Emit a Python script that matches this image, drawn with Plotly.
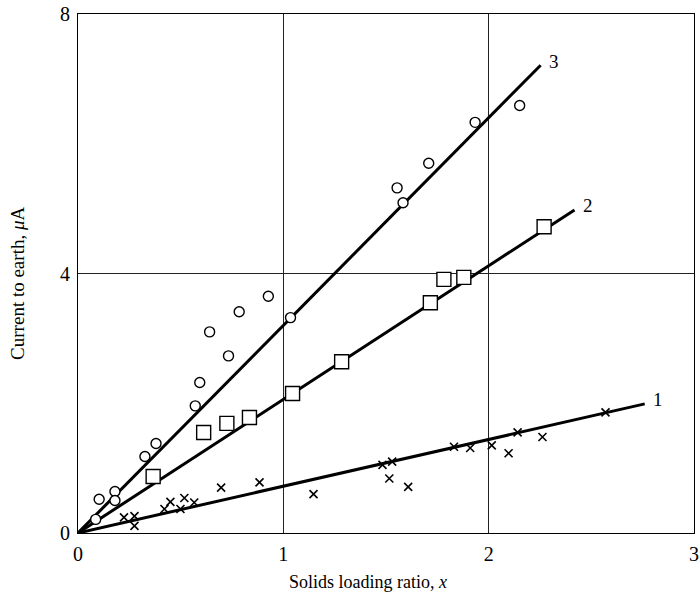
import plotly.graph_objects as go

# Measured points: solids loading ratio x vs current to earth (uA)
circ_x = [0.086, 0.103, 0.18, 0.18, 0.326, 0.38, 0.571, 0.593, 0.733, 0.641,
          0.785, 0.927, 1.035, 1.554, 1.583, 1.708, 1.934, 2.151]
circ_y = [0.21, 0.52, 0.64, 0.50, 1.18, 1.38, 1.96, 2.32, 2.73, 3.10,
          3.41, 3.65, 3.32, 5.32, 5.09, 5.70, 6.33, 6.59]

sq_x = [0.366, 0.612, 0.725, 0.835, 1.045, 1.284, 1.716, 1.782, 1.879, 2.27]
sq_y = [0.87, 1.55, 1.69, 1.78, 2.15, 2.64, 3.55, 3.91, 3.94, 4.72]

cross_x = [0.224, 0.275, 0.275, 0.421, 0.45, 0.499, 0.518, 0.566, 0.697, 0.884,
           1.147, 1.483, 1.53, 1.516, 1.608, 1.831, 1.91, 2.015, 2.097, 2.141,
           2.262, 2.569]
cross_y = [0.24, 0.26, 0.11, 0.37, 0.48, 0.37, 0.54, 0.47, 0.70, 0.78,
           0.60, 1.05, 1.10, 0.84, 0.71, 1.33, 1.31, 1.35, 1.23, 1.55,
           1.48, 1.86]

# Fitted straight lines through the origin (start and end points)
line1_x = [0.0, 2.76]
line1_y = [0.0, 1.99]
line2_x = [0.0, 2.418]
line2_y = [0.0, 4.98]
line3_x = [0.0, 2.253]
line3_y = [0.0, 7.21]
line_labels = ["1", "2", "3"]

x_ticks = [0, 1, 2, 3]
y_ticks = [0, 4, 8]

FONT = "Liberation Serif"

fig = go.Figure()

for lx, ly in [(line1_x, line1_y), (line2_x, line2_y), (line3_x, line3_y)]:
    fig.add_trace(go.Scatter(x=lx, y=ly, mode="lines",
                             line=dict(color="black", width=3),
                             hoverinfo="skip", showlegend=False))

fig.add_trace(go.Scatter(x=cross_x, y=cross_y, mode="markers", showlegend=False,
                         marker=dict(symbol="x-thin", size=8,
                                     line=dict(color="black", width=1.6))))
fig.add_trace(go.Scatter(x=sq_x, y=sq_y, mode="markers", showlegend=False,
                         marker=dict(symbol="square", size=14, color="white",
                                     line=dict(color="black", width=1.4))))
fig.add_trace(go.Scatter(x=circ_x, y=circ_y, mode="markers", showlegend=False,
                         marker=dict(symbol="circle", size=10, color="white",
                                     line=dict(color="black", width=1.4))))

# Curve numbers at the end of each line
for lab, lx, ly in zip(line_labels, [line1_x, line2_x, line3_x],
                       [line1_y, line2_y, line3_y]):
    fig.add_annotation(x=lx[-1], y=ly[-1], text=lab, showarrow=False,
                       xanchor="left", yanchor="middle", xshift=6, yshift=4,
                       font=dict(family=FONT, size=19, color="black"))

# Axis titles
fig.add_annotation(x=0.47, y=0, xref="paper", yref="paper", yanchor="top",
                   yshift=-37, showarrow=False,
                   text="Solids loading ratio, <i>x</i>",
                   font=dict(family=FONT, size=18, color="black"))
fig.add_annotation(x=0, y=0.48, xref="paper", yref="paper", xanchor="center",
                   xshift=-60, showarrow=False, textangle=-90,
                   text="Current to earth, <i>\u03bc</i>A",
                   font=dict(family=FONT, size=19, color="black"))

axis_common = dict(showline=True, mirror=True, linecolor="black", linewidth=1,
                   showgrid=True, gridcolor="#222222", gridwidth=1,
                   zeroline=False, ticks="", automargin=False,
                   ticklabeloverflow="allow",
                   tickfont=dict(family=FONT, size=20, color="black"))

fig.update_xaxes(range=[0, 3], tickvals=x_ticks, ticklabelstandoff=3, **axis_common)
fig.update_yaxes(range=[0, 8], tickvals=y_ticks, ticklabelstandoff=3, **axis_common)

fig.update_layout(width=700, height=599,
                  margin=dict(l=78, r=6, t=14, b=66),
                  plot_bgcolor="white", paper_bgcolor="white",
                  showlegend=False)

fig.write_html("out.html")
